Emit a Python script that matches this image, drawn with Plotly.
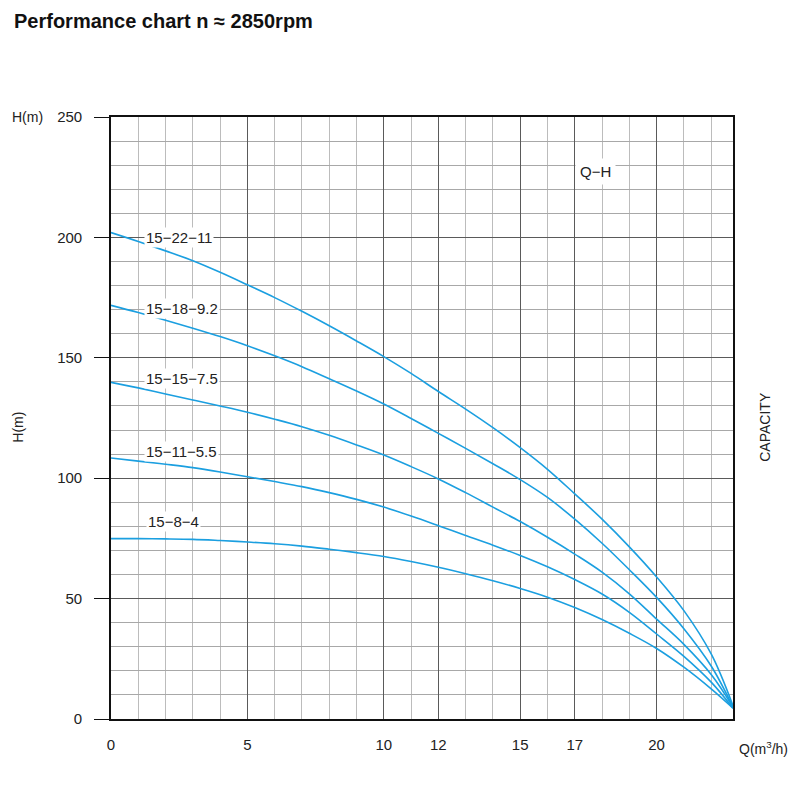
import plotly.graph_objects as go

# Flow points (m3/h) used for every curve
Q = [0, 1, 2, 3, 4, 5, 6, 7, 8, 9, 10, 11, 12, 13, 14, 15, 16, 17, 18, 19, 20, 21, 22, 22.8]

# Head (m) for each pump model
H_15_22_11 = [202, 198.3, 194.4, 190.3, 185.5, 180.3, 175, 169.3, 163.3, 157, 150.5, 143.5,
              136, 128.7, 121, 112.7, 103.7, 93.5, 83, 71.5, 59, 45, 27, 5.5]
H_15_18_92 = [171.8, 168.8, 165.6, 162.3, 158.8, 155, 150.8, 146.3, 141.3, 136.2, 130.8, 124.8,
              118.6, 112.4, 106, 99.4, 92, 83, 73, 62, 50.5, 37.5, 22, 5]
H_15_15_75 = [139.8, 137.5, 135, 132.5, 130, 127.4, 124.5, 121.4, 117.8, 113.8, 109.6, 104.8,
              99.7, 94, 88, 82, 75.5, 68.5, 61, 52, 41.5, 31, 18.5, 5]
H_15_11_55 = [108.4, 107.1, 105.8, 104.4, 102.6, 100.6, 98.6, 96.5, 94, 91.2, 88, 84.3, 80.3,
              76.2, 72.2, 67.9, 63.2, 57.9, 51.9, 44.3, 35.3, 26, 15.3, 4.5]
H_15_8_4 = [74.9, 74.9, 74.8, 74.6, 74.1, 73.5, 72.8, 71.8, 70.5, 69.1, 67.5, 65.4, 63, 60.3,
            57.4, 54.2, 50.6, 46.3, 41.3, 35.6, 29.3, 21.5, 12.5, 4.5]

curve_names = ["15−22−11", "15−18−9.2", "15−15−7.5", "15−11−5.5", "15−8−4"]
curve_heads = [H_15_22_11, H_15_18_92, H_15_15_75, H_15_11_55, H_15_8_4]
label_q = [2.5, 2.6, 2.6, 2.6, 2.3]
label_h = [200, 170.5, 141.5, 111, 82]

x_ticks = [0, 5, 10, 12, 15, 17, 20]
y_ticks = [0, 50, 100, 150, 200, 250]

BLUE = "#1b9fe0"
FONT = "Liberation Sans, Arial, sans-serif"
TXT = "#222"

fig = go.Figure()
for name, heads in zip(curve_names, curve_heads):
    fig.add_trace(go.Scatter(
        x=Q, y=heads, mode="lines", name=name,
        line=dict(color=BLUE, width=1.6, shape="spline", smoothing=1.0),
        showlegend=False, hoverinfo="skip",
    ))

# curve labels sit on the gridlines with a white box behind them
for name, qx, hy in zip(curve_names, label_q, label_h):
    fig.add_annotation(x=qx, y=hy, text=name, showarrow=False,
                       font=dict(size=15, color=TXT), bgcolor="white",
                       borderpad=1)

fig.add_annotation(x=17.75, y=227.5, text="Q−H", showarrow=False,
                   font=dict(size=15, color=TXT), bgcolor="white", borderpad=4)

# outer labels
fig.add_annotation(xref="paper", yref="paper", x=-0.159, y=1.16,
                   text="<b>Performance chart n ≈ 2850rpm</b>", showarrow=False,
                   xanchor="left", yanchor="middle", font=dict(size=20, color="#111"))
fig.add_annotation(xref="paper", yref="paper", x=-0.163, y=1.0, text="H(m)",
                   xanchor="left", yanchor="middle",
                   showarrow=False, font=dict(size=14, color=TXT))
fig.add_annotation(xref="paper", yref="paper", x=-0.15, y=0.485, text="H(m)",
                   xanchor="center", yanchor="middle",
                   textangle=-90, showarrow=False, font=dict(size=14, color=TXT))
fig.add_annotation(xref="paper", yref="paper", x=1.051, y=0.485, text="CAPACITY",
                   xanchor="center", yanchor="middle",
                   textangle=-90, showarrow=False, font=dict(size=14, color=TXT))
fig.add_annotation(xref="paper", yref="paper", x=1.091, y=-0.048,
                   text="Q(m<sup>3</sup>/h)", showarrow=False,
                   xanchor="right", yanchor="middle",
                   font=dict(size=14, color=TXT))

fig.update_layout(
    width=792, height=789, autosize=False,
    margin=dict(l=103, r=67, t=109, b=78),
    paper_bgcolor="white", plot_bgcolor="white",
    font=dict(family=FONT, size=15, color=TXT),
    xaxis=dict(
        range=[0, 22.8], tickvals=x_ticks, ticks="", ticklabelstandoff=11,
        showgrid=True, gridcolor="#5a5a5a", gridwidth=1.3,
        minor=dict(dtick=1, tick0=0, showgrid=True, gridcolor="#bcbcbc", gridwidth=1),
        showline=True, linecolor="#111", linewidth=1.6, mirror=True,
        zeroline=False,
    ),
    yaxis=dict(
        range=[0, 250], tickvals=y_ticks, ticks="outside", ticklen=15,
        tickcolor="#111", tickwidth=1.4, ticklabelstandoff=9,
        showgrid=True, gridcolor="#5a5a5a", gridwidth=1.3,
        minor=dict(dtick=10, tick0=0, showgrid=True, gridcolor="#a8a8a8", gridwidth=1),
        showline=True, linecolor="#111", linewidth=1.6, mirror=True,
        zeroline=False,
    ),
)

fig.write_html("out.html")
